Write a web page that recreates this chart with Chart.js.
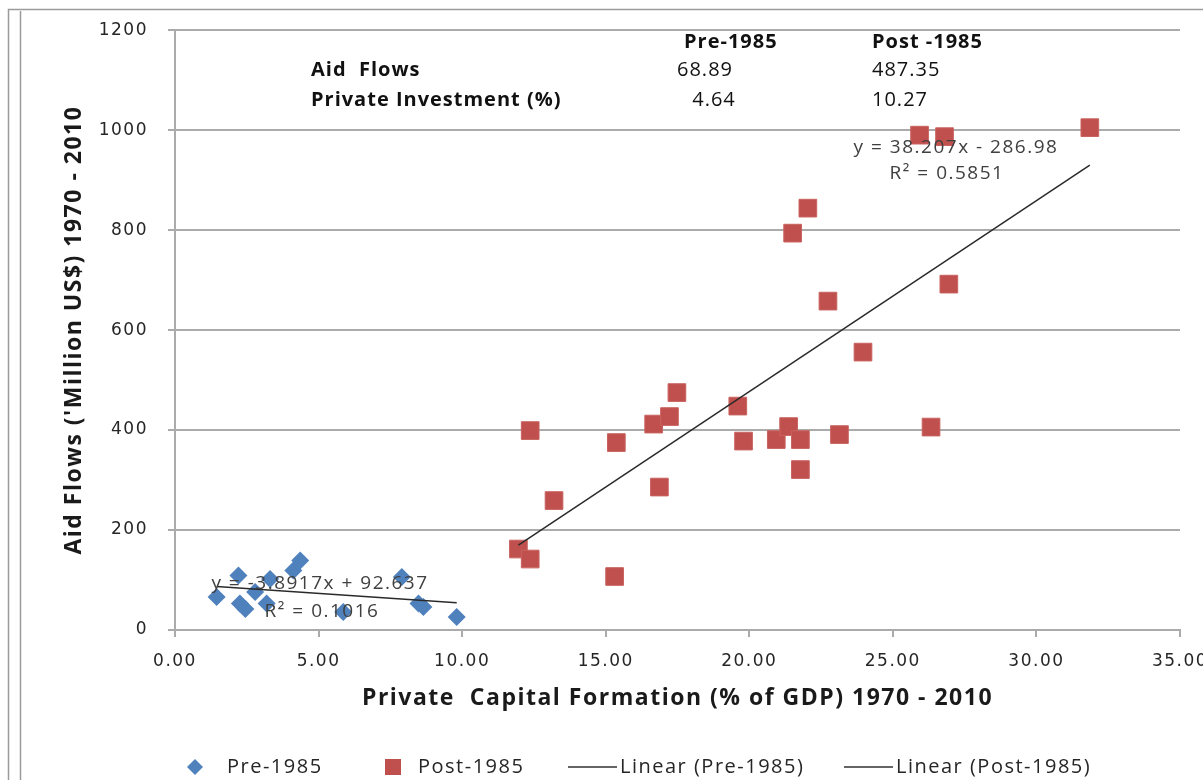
<!DOCTYPE html>
<html><head><meta charset="utf-8">
<script src="https://cdn.jsdelivr.net/npm/chart.js@4.4.1/dist/chart.umd.min.js"></script>
<style>html,body{margin:0;padding:0;background:#fff;}#wrap{width:1203px;height:780px;position:relative;}</style>
</head><body><div id="wrap"><canvas id="c" width="1203" height="780"></canvas></div>
<script>
// ---- data ----
const preX = [1.45, 2.21, 2.26, 2.45, 2.79, 3.19, 3.31, 4.12, 4.36, 5.86, 7.90, 8.48, 8.65, 9.81];
const preY = [66, 109, 53, 42, 76, 53, 102, 119, 139, 36, 106, 53, 46, 26];
const postX = [11.96, 12.37, 12.37, 13.20, 15.31, 15.37, 16.67, 16.87, 17.22, 17.48, 19.60, 19.80, 20.94, 21.37, 21.51, 21.78, 21.78, 22.04, 22.74, 23.14, 23.96, 25.93, 26.33, 26.80, 26.95, 31.86];
const postY = [162, 142, 399, 259, 107, 375, 412, 286, 427, 475, 448, 378, 381, 407, 794, 381, 321, 844, 658, 391, 556, 990, 406, 987, 692, 1005];
const seriesLabels = ['Pre-1985', 'Post-1985', 'Linear (Pre-1985)', 'Linear (Post-1985)'];
const preSlope = -3.8917, preIntercept = 92.637;
const postSlope = 38.207, postIntercept = -286.98;
const preEqText = ['y = -3.8917x + 92.637', 'R\u00B2 = 0.1016'];
const postEqText = ['y = 38.207x - 286.98', 'R\u00B2 = 0.5851'];
const tableCols = ['Pre-1985', 'Post -1985'];
const tableRows = ['Aid  Flows', 'Private Investment (%)'];
const tableVals = [['68.89', '487.35'], [' 4.64', '10.27']];
const xTitle = 'Private  Capital Formation (% of GDP) 1970 - 2010';
const yTitle = "Aid Flows ('Million US$) 1970 - 2010";

// ---- styles ----
const BLUE = '#4F81BD', RED = '#C0504D', GRID = '#ababab', TXT = '#262626';
const TEXTFONT = '"Open Sans", "Liberation Sans", sans-serif';
const TICKFONT = 'DejaVu Sans';

function pts(xs, ys) { return xs.map((x, i) => ({ x: x, y: ys[i] })); }
function trend(xs, m, b) {
  const lo = Math.min(...xs), hi = Math.max(...xs);
  return [{ x: lo, y: m * lo + b }, { x: hi, y: m * hi + b }];
}

const spacingPlugin = {
  id: 'spacing',
  beforeUpdate(chart) { chart.ctx.letterSpacing = '1.5px'; },
  beforeLayout(chart) { chart.ctx.letterSpacing = '1.5px'; },
  beforeDraw(chart) { chart.ctx.letterSpacing = '1.5px'; }
};

const framePlugin = {
  id: 'frame',
  beforeDraw(chart) {
    const c = chart.ctx;
    c.save();
    c.fillStyle = '#fff'; c.fillRect(0, 0, chart.width, chart.height);
    c.strokeStyle = '#9a9a9a'; c.lineWidth = 1.5;
    c.beginPath();
    c.moveTo(8.5, chart.height); c.lineTo(8.5, 9.5); c.lineTo(chart.width, 9.5);
    c.moveTo(20.5, chart.height); c.lineTo(20.5, 11);
    c.stroke();
    c.restore();
  }
};

const annotPlugin = {
  id: 'annot',
  afterDraw(chart) {
    const c = chart.ctx;
    c.save();
    c.textBaseline = 'middle';
    // summary table
    c.fillStyle = '#111';
    c.textAlign = 'left';
    c.letterSpacing = '1px';
    c.font = 'bold 20px ' + TEXTFONT;
    c.fillText(tableCols[0], 684, 42);
    c.fillText(tableCols[1], 872, 42);
    c.fillText(tableRows[0], 311, 70);
    c.fillText(tableRows[1], 311, 100);
    c.font = '20px ' + TEXTFONT;
    c.fillText(tableVals[0][0], 677, 70);
    c.fillText(tableVals[0][1], 872, 70);
    c.fillText(tableVals[1][0], 686, 100);
    c.fillText(tableVals[1][1], 872, 100);
    // trendline equations
    c.letterSpacing = '1.5px';
    c.fillStyle = '#404040';
    c.font = '19px ' + TEXTFONT;
    c.textAlign = 'center';
    c.fillText(postEqText[0], 956, 148);
    c.fillText(postEqText[1], 947, 174);
    c.fillText(preEqText[0], 320, 584);
    c.fillText(preEqText[1], 322, 612);
    // legend
    const ly = 767;
    c.font = '20px ' + TEXTFONT;
    c.textAlign = 'left';
    c.fillStyle = BLUE;
    c.beginPath(); c.moveTo(195, ly - 8); c.lineTo(203, ly); c.lineTo(195, ly + 8); c.lineTo(187, ly); c.closePath(); c.fill();
    c.fillStyle = TXT; c.fillText(seriesLabels[0], 227, ly);
    c.fillStyle = RED; c.fillRect(385, ly - 8, 16, 16);
    c.fillStyle = TXT; c.fillText(seriesLabels[1], 418, ly);
    c.strokeStyle = '#333'; c.lineWidth = 1.5;
    c.beginPath(); c.moveTo(568, ly); c.lineTo(617, ly); c.moveTo(844, ly); c.lineTo(893, ly); c.stroke();
    c.fillText(seriesLabels[2], 620, ly);
    c.fillText(seriesLabels[3], 896, ly);
    c.restore();
  }
};

new Chart(document.getElementById('c'), {
  type: 'scatter',
  data: {
    datasets: [
      { label: seriesLabels[0], data: pts(preX, preY), pointStyle: 'rectRot', pointRadius: 9, pointHoverRadius: 9,
        backgroundColor: BLUE, borderColor: BLUE, borderWidth: 0, order: 2 },
      { label: seriesLabels[1], data: pts(postX, postY), pointStyle: 'rect', pointRadius: 12.5, pointHoverRadius: 12.5,
        backgroundColor: RED, borderColor: '#c86360', borderWidth: 1, order: 2 },
      { label: seriesLabels[2], data: trend(preX, preSlope, preIntercept), showLine: true, pointRadius: 0,
        borderColor: '#2a2a2a', borderWidth: 1.5, fill: false, order: 1 },
      { label: seriesLabels[3], data: trend(postX, postSlope, postIntercept), showLine: true, pointRadius: 0,
        borderColor: '#2a2a2a', borderWidth: 1.5, fill: false, order: 1 }
    ]
  },
  options: {
    responsive: false,
    animation: false,
    layout: { padding: { left: 0, right: 23, top: 24, bottom: 0 } },
    plugins: { legend: { display: false }, tooltip: { enabled: false } },
    scales: {
      x: {
        type: 'linear', min: 0, max: 35,
        afterFit(s) { s.height = 150; s.paddingRight = 0; s.paddingLeft = 0; },
        ticks: { stepSize: 5, autoSkip: false, maxRotation: 0, padding: 14, color: TXT,
          font: { family: TICKFONT, size: 17 }, callback: v => Number(v).toFixed(2) },
        grid: { drawOnChartArea: false, drawTicks: true, tickLength: 7, color: GRID, lineWidth: 2 },
        border: { color: GRID, width: 2 },
        title: { display: true, text: xTitle, color: '#1a1a1a', padding: { top: 0, bottom: 68 },
          font: { family: TEXTFONT, size: 23, weight: 'bold', lineHeight: 1.2 } }
      },
      y: {
        type: 'linear', min: 0, max: 1200,
        afterFit(s) { s.width = 175; },
        ticks: { stepSize: 200, padding: 20, color: TXT, font: { family: TICKFONT, size: 17 },
          callback: v => String(v) },
        grid: { drawTicks: true, tickLength: 7, color: GRID, lineWidth: 2 },
        border: { color: GRID, width: 2 },
        title: { display: true, text: yTitle, color: '#1a1a1a', padding: { top: 61, bottom: 0 },
          font: { family: TEXTFONT, size: 23, weight: 'bold', lineHeight: 1.2 } }
      }
    }
  },
  plugins: [spacingPlugin, framePlugin, annotPlugin]
});
</script></body></html>
